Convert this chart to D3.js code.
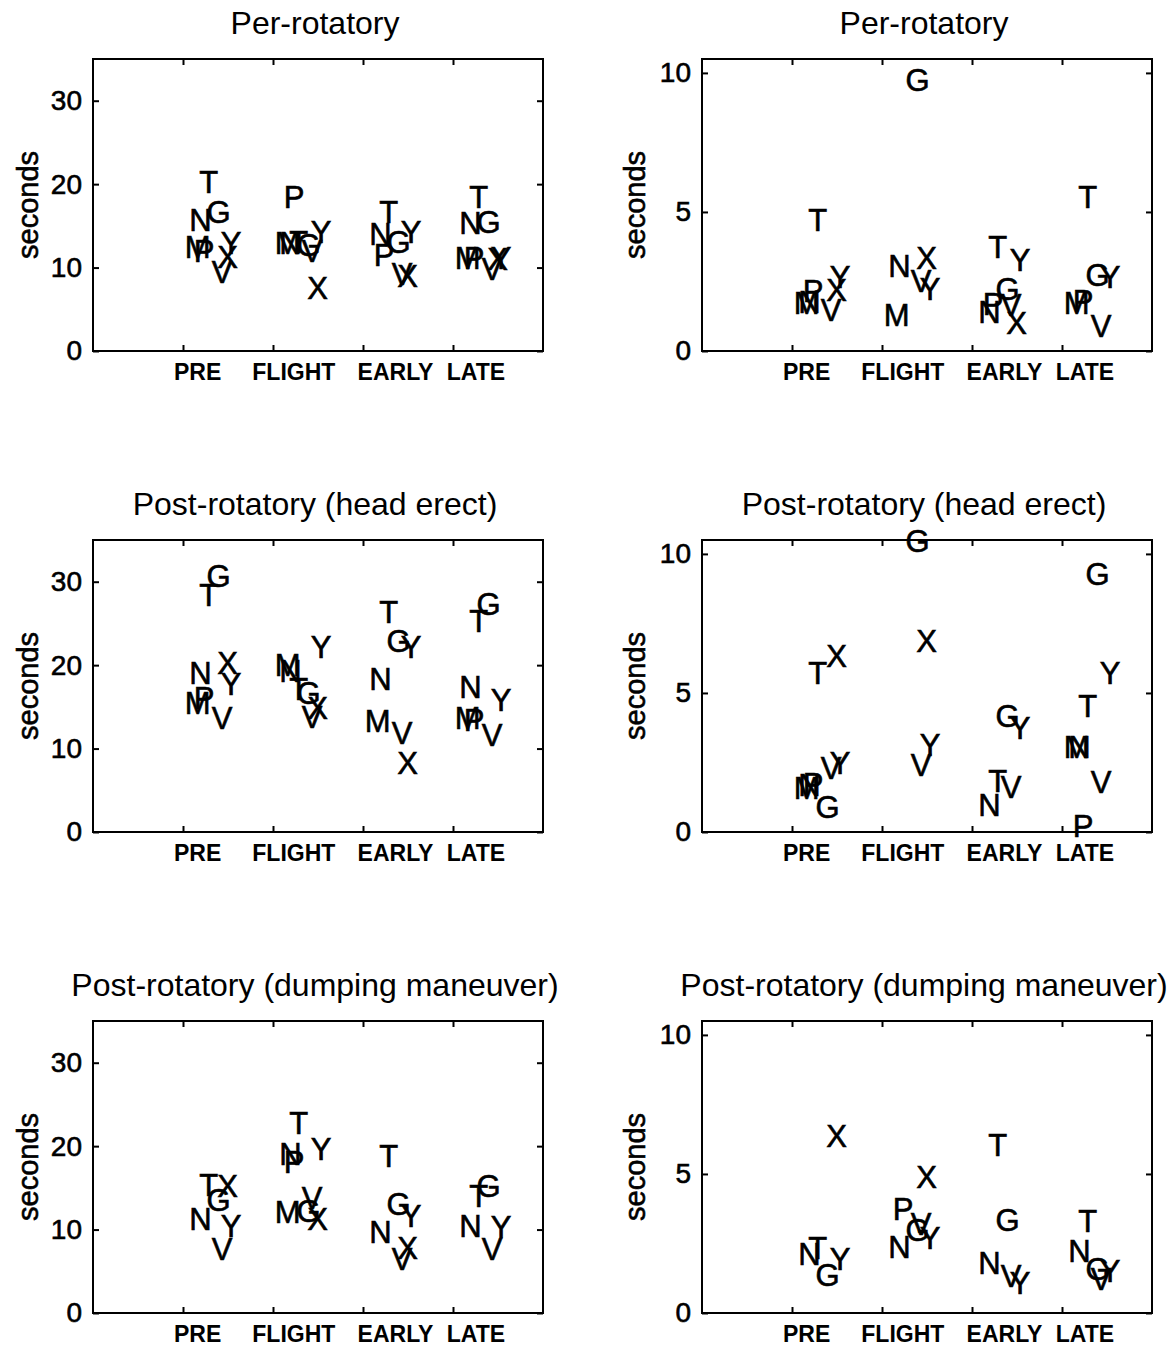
<!DOCTYPE html>
<html>
<head>
<meta charset="utf-8">
<script src="https://cdn.jsdelivr.net/npm/d3@7"></script>
<style>
  body { margin: 0; background: #fff; }
  svg text { font-family: "Liberation Sans", Arial, Helvetica, sans-serif; fill: #000; }
  .box { fill: none; stroke: #000; stroke-width: 2; }
  .tick line { stroke: #000; stroke-width: 2; }
  .heavy { stroke: #000; stroke-width: 0.6px; }
</style>
</head>
<body>
<svg id="fig" width="1174" height="1349"></svg>
<script>
// subjects, in the order of the rows below
var subjects = ["M", "N", "P", "T", "G", "V", "X", "Y"];
var phases = ["PRE", "FLIGHT", "EARLY", "LATE"];
// horizontal jitter of each subject's letter (x units, one phase = 1)
var subjectOffset = [0.02, 0.07, 0.12, 0.18, 0.26, 0.32, 0.38, 0.42];

var titles = ["Per-rotatory", "Post-rotatory (head erect)", "Post-rotatory (dumping maneuver)"];
var leftTicks = [0, 10, 20, 30];
var rightTicks = [0, 5, 10];

// seconds, rows = subjects, columns = phases (null = no letter)
var perLeft = [
  [12.5, 13.0, null, 11.2],
  [15.7, 13.0, 14.0, 15.4],
  [12.0, 18.5, 11.5, 11.2],
  [20.3, 13.1, 16.7, 18.5],
  [16.7, 12.7, 13.1, 15.5],
  [9.5, 12.0, 9.2, 9.8],
  [11.3, 7.5, 9.0, 11.0],
  [13.0, 14.3, 14.3, 11.2]
];
var perRight = [
  [1.74, 1.3, null, 1.72],
  [1.75, 3.07, 1.41, null],
  [2.17, null, 1.68, 1.8],
  [4.7, null, 3.75, 5.55],
  [null, 9.76, 2.22, 2.74],
  [1.47, 2.53, 1.67, 0.91],
  [2.2, 3.36, 1.0, null],
  [2.67, 2.22, 3.27, 2.65]
];
var erectLeft = [
  [15.5, 20.0, 13.3, 13.7],
  [19.1, 19.3, 18.3, 17.4],
  [16.1, null, null, 13.4],
  [28.4, 17.2, 26.4, 25.3],
  [30.7, 16.7, 22.9, 27.3],
  [13.7, 13.8, 11.9, 11.6],
  [20.3, 14.9, 8.3, null],
  [17.7, 22.2, 22.2, 15.8]
];
var erectRight = [
  [1.58, null, null, 3.07],
  [1.7, null, 0.96, 3.07],
  [1.74, null, null, 0.23],
  [5.73, null, 1.85, 4.54],
  [0.91, 10.48, 4.18, 9.26],
  [2.31, 2.4, 1.63, 1.81],
  [6.34, 6.88, null, null],
  [2.49, 3.14, 3.75, 5.73]
];
var dumpLeft = [
  [null, 12.05, null, null],
  [11.3, 19.0, 9.65, 10.4],
  [null, 18.1, null, null],
  [15.3, 22.8, 18.8, 14.0],
  [13.5, 12.2, 13.1, 15.2],
  [7.7, 13.8, 6.5, 7.7],
  [15.2, 11.3, 7.85, null],
  [10.4, 19.6, 11.6, 10.25]
];
var dumpRight = [
  [null, null, null, null],
  [2.11, 2.38, 1.79, 2.24],
  [null, 3.73, null, null],
  [2.35, null, 6.04, 3.32],
  [1.38, 2.98, 3.36, 1.58],
  [null, 3.2, 1.34, 1.23],
  [6.38, 4.9, null, null],
  [1.95, 2.69, 1.09, 1.52]
];

var panels = [
  {data: perLeft, col: 0, row: 0},
  {data: perRight, col: 1, row: 0},
  {data: erectLeft, col: 0, row: 1},
  {data: erectRight, col: 1, row: 1},
  {data: dumpLeft, col: 0, row: 2},
  {data: dumpRight, col: 1, row: 2}
];

var boxLeft = [93, 702];
var boxTop = [59, 540, 1021];
var plotWidth = 450;
var plotHeight = 292;
// where each phase label starts, relative to its tick (x units)
var labelShift = [-0.1, -0.23, -0.06, -0.07];

var svg = d3.select("svg#fig");

var translate = function(x, y) {
  return "translate(" + x + "," + y + ")";
};

var drawPanel = function(p) {
  var yMax = p.col == 0 ? 35 : 10.5;
  var ticks = p.col == 0 ? leftTicks : rightTicks;

  var xScale = d3.scaleLinear().domain([0, 5]).range([0, plotWidth]);
  var yScale = d3.scaleLinear().domain([0, yMax]).range([plotHeight, 0]);

  var plot = svg.append("g")
    .attr("transform", translate(boxLeft[p.col], boxTop[p.row]));

  /* axes, ticks pointing inward on all four sides */
  var yAxis = d3.axisLeft(yScale).tickValues(ticks).tickSize(-6).tickPadding(11);
  var gy = plot.append("g").call(yAxis);
  gy.selectAll("text")
    .attr("class", "heavy")
    .style("font-size", "28px");

  plot.append("g").attr("transform", translate(plotWidth, 0))
    .call(d3.axisRight(yScale).tickValues(ticks).tickSize(-6).tickFormat(""));
  plot.append("g")
    .call(d3.axisTop(xScale).tickValues([1, 2, 3, 4]).tickSize(-6).tickFormat(""));
  plot.append("g").attr("transform", translate(0, plotHeight))
    .call(d3.axisBottom(xScale).tickValues([1, 2, 3, 4]).tickSize(-6).tickFormat(""));
  plot.selectAll(".domain").remove();

  plot.append("rect")
    .attr("class", "box")
    .attr("width", plotWidth)
    .attr("height", plotHeight);

  // phase labels
  plot.selectAll("text.phase")
    .data(phases)
    .enter().append("text")
      .attr("class", "phase")
      .attr("x", function(d, i) { return xScale(i + 1 + labelShift[i]); })
      .attr("y", plotHeight + 29)
      .style("font-size", "23px")
      .style("font-weight", "bold")
      .text(function(d) { return d; });

  // y label
  plot.append("text")
    .attr("class", "heavy")
    .attr("transform", translate(p.col == 0 ? -55 : -57, plotHeight / 2) + " rotate(-90)")
    .attr("text-anchor", "middle")
    .style("font-size", "29px")
    .text("seconds");

  // title
  plot.append("text")
    .attr("x", plotWidth / 2 - 3)
    .attr("y", -25)
    .attr("text-anchor", "middle")
    .style("font-size", "32px")
    .text(titles[p.row]);

  // subject letters
  var points = [];
  p.data.forEach(function(row, s) {
    row.forEach(function(v, k) {
      if (v != null) {
        points.push({subject: subjects[s], off: subjectOffset[s], phase: k, value: v});
      }
    });
  });

  plot.selectAll("text.letter")
    .data(points)
    .enter().append("text")
      .attr("class", "letter heavy")
      .attr("x", function(d) { return xScale(d.phase + 1 + d.off); })
      .attr("y", function(d) { return yScale(d.value) + 11; })
      .style("font-size", "31px")
      .text(function(d) { return d.subject; });
};

panels.forEach(drawPanel);
</script>
</body>
</html>
